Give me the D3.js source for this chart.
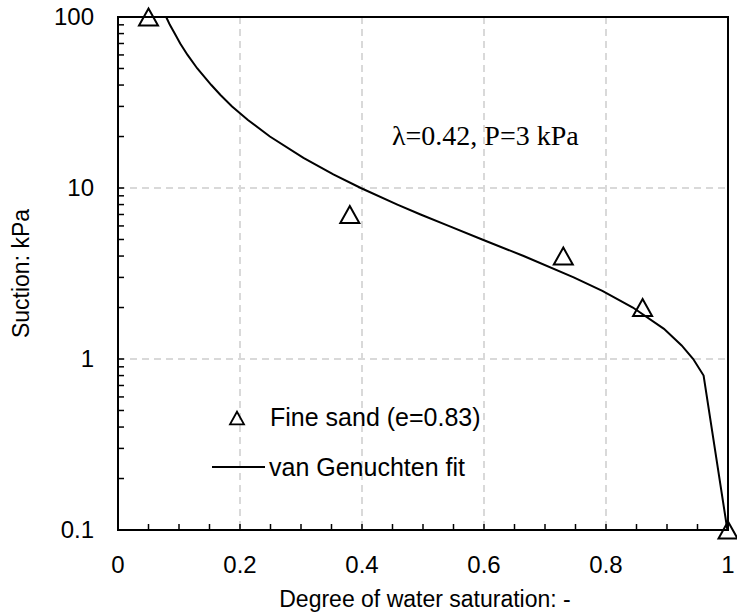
<!DOCTYPE html>
<html>

<head>
    <script src="https://d3js.org/d3.v7.min.js"></script>
    <style>
        body { margin: 0; background: white; }
    </style>
    <script>
        const width = 737
        const height = 615
        const plotLeft = 118, plotRight = 728, plotTop = 17, plotBottom = 530

        const fontFamily = "Arial, 'Liberation Sans', sans-serif"
        const serifFamily = "'Times New Roman', 'Liberation Serif', serif"

        // measured points (Fine sand, e=0.83)
        const saturation = [0.05, 0.38, 0.73, 0.86, 1.0]
        const suction = [100, 7, 4, 2, 0.1]

        // van Genuchten fit
        const fitSuction = [100, 90, 80, 70, 60, 50, 40, 35, 30, 25, 20, 15, 12, 10, 8, 7, 6, 5, 4, 3, 2.5, 2, 1.5, 1.2, 1, 0.8, 0.1]
        const fitSaturation = [0.079, 0.085, 0.093, 0.102, 0.114, 0.130, 0.153, 0.168, 0.187, 0.213, 0.249, 0.304, 0.353, 0.398, 0.458, 0.496, 0.542, 0.597, 0.665, 0.747, 0.794, 0.844, 0.895, 0.924, 0.943, 0.960, 0.999]

        const xTicks = [0, 0.2, 0.4, 0.6, 0.8, 1]
        const xTickLabels = ["0", "0.2", "0.4", "0.6", "0.8", "1"]
        const yTicks = [0.1, 1, 10, 100]
        const yTickLabels = ["0.1", "1", "10", "100"]
        const xGrid = [0.2, 0.4, 0.6, 0.8]
        const yGrid = [1, 10]

        const xTitle = "Degree of water saturation: -"
        const yTitle = "Suction: kPa"
        const legendLabels = ["Fine sand (e=0.83)", "van Genuchten fit"]
        const annotation = "\u03bb=0.42, P=3 kPa"

        function trianglePath(size) {
            const h = size * 0.9
            return `M0,${-h / 2}L${size / 2},${h / 2}L${-size / 2},${h / 2}Z`
        }

        function draw() {
            const svg = d3.select("body").append("svg").attr("width", width).attr("height", height)

            const x = d3.scaleLinear().domain([0, 1]).range([plotLeft, plotRight])
            const y = d3.scaleLog().domain([0.1, 100]).range([plotBottom, plotTop])

            // grid lines
            svg.selectAll(".xgrid").data(xGrid).enter().append("line")
                .attr("x1", d => x(d)).attr("x2", d => x(d))
                .attr("y1", plotTop).attr("y2", plotBottom)
                .attr("stroke", "#d9d9d9").attr("stroke-width", 2).attr("stroke-dasharray", "7 5")
            svg.selectAll(".ygrid").data(yGrid).enter().append("line")
                .attr("x1", plotLeft).attr("x2", plotRight)
                .attr("y1", d => y(d)).attr("y2", d => y(d))
                .attr("stroke", "#d9d9d9").attr("stroke-width", 2).attr("stroke-dasharray", "7 5")

            // minor + major ticks, pointing inward
            const xMinor = d3.range(0, 21).map(i => i * 0.05)
            svg.selectAll(".xtick").data(xMinor).enter().append("line")
                .attr("x1", d => x(d)).attr("x2", d => x(d))
                .attr("y1", plotBottom).attr("y2", plotBottom - 6)
                .attr("stroke", "black").attr("stroke-width", 1.5)
            const yMinor = []
            for (let dec = 0.1; dec < 100; dec *= 10) {
                for (let k = 1; k < 10; k++) yMinor.push(dec * k)
            }
            yMinor.push(100)
            svg.selectAll(".ytick").data(yMinor).enter().append("line")
                .attr("x1", plotLeft).attr("x2", plotLeft + 6)
                .attr("y1", d => y(d)).attr("y2", d => y(d))
                .attr("stroke", "black").attr("stroke-width", 1.5)

            // frame
            svg.append("rect")
                .attr("x", plotLeft).attr("y", plotTop)
                .attr("width", plotRight - plotLeft).attr("height", plotBottom - plotTop)
                .attr("fill", "none").attr("stroke", "black").attr("stroke-width", 2)

            // tick labels
            svg.selectAll(".xlabel").data(xTicks).enter().append("text")
                .text((d, i) => xTickLabels[i])
                .attr("x", d => x(d)).attr("y", 573)
                .attr("text-anchor", "middle")
                .style("font-family", fontFamily).style("font-size", "24px")
            svg.selectAll(".ylabel").data(yTicks).enter().append("text")
                .text((d, i) => yTickLabels[i])
                .attr("x", 94).attr("y", d => y(d) + 8)
                .attr("text-anchor", "end")
                .style("font-family", fontFamily).style("font-size", "24px")

            // axis titles
            svg.append("text").text(xTitle)
                .attr("x", (plotLeft + plotRight) / 2 + 2).attr("y", 607)
                .attr("text-anchor", "middle")
                .style("font-family", fontFamily).style("font-size", "23px")
            svg.append("text").text(yTitle)
                .attr("transform", `translate(29, ${(plotTop + plotBottom) / 2}) rotate(-90)`)
                .attr("text-anchor", "middle")
                .style("font-family", fontFamily).style("font-size", "23px")

            // fitted curve
            const fit = fitSuction.map((s, i) => [fitSaturation[i], s])
            svg.append("path")
                .attr("d", d3.line().x(d => x(d[0])).y(d => y(d[1]))(fit))
                .attr("fill", "none").attr("stroke", "black").attr("stroke-width", 2)

            // measured points
            svg.selectAll(".pt").data(saturation.map((s, i) => [s, suction[i]])).enter().append("path")
                .attr("d", trianglePath(19))
                .attr("transform", d => `translate(${x(d[0])}, ${y(d[1])})`)
                .attr("fill", "none").attr("stroke", "black").attr("stroke-width", 2)

            // annotation
            svg.append("text").text(annotation)
                .attr("x", 392).attr("y", 145)
                .style("font-family", serifFamily).style("font-size", "28px")

            // legend
            svg.append("path")
                .attr("d", trianglePath(14))
                .attr("transform", "translate(237, 418)")
                .attr("fill", "none").attr("stroke", "black").attr("stroke-width", 1.8)
            svg.append("text").text(legendLabels[0])
                .attr("x", 270).attr("y", 426)
                .style("font-family", fontFamily).style("font-size", "25px")
            svg.append("line")
                .attr("x1", 212).attr("x2", 265).attr("y1", 467).attr("y2", 467)
                .attr("stroke", "black").attr("stroke-width", 2)
            svg.append("text").text(legendLabels[1])
                .attr("x", 269).attr("y", 476)
                .style("font-family", fontFamily).style("font-size", "25px")
        }
    </script>
</head>

<body onload="draw()">
</body>

</html>
